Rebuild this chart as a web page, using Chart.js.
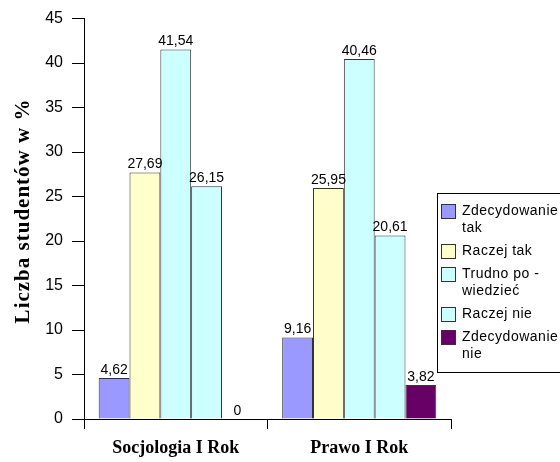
<!DOCTYPE html>
<html lang="pl">
<head>
<meta charset="UTF-8" />
<title>Liczba studentów</title>
<script src="https://cdn.jsdelivr.net/npm/chart.js"></script>
<style>
    html, body { margin: 0; padding: 0; background: #fff; overflow: hidden; }
    #wrap { width: 560px; height: 462px; }
</style>
</head>
<body>
<div id="wrap"><canvas id="wykres"></canvas></div>
<script>
    // dane
    const kierunki = ['Socjologia I Rok', 'Prawo I Rok'];
    const odpowiedzi = ['Zdecydowanie tak', 'Raczej tak', 'Trudno po - wiedzieć', 'Raczej nie', 'Zdecydowanie nie'];
    const zdecydowanieTak = [4.62, 9.16];
    const raczejTak = [27.69, 25.95];
    const trudnoPowiedziec = [41.54, 40.46];
    const raczejNie = [26.15, 20.61];
    const zdecydowanieNie = [0, 3.82];
    const yTicks = [0, 5, 10, 15, 20, 25, 30, 35, 40, 45];
    const tytulY = 'Liczba studentów w %';

    const serie = [zdecydowanieTak, raczejTak, trudnoPowiedziec, raczejNie, zdecydowanieNie];
    const kolory = ['#9999ff', '#ffffcc', '#ccffff', '#ccffff', '#660066'];

    // wartosci nad slupkami
    const etykiety = {
        id: 'etykiety',
        afterDatasetsDraw(chart) {
            const ctx = chart.ctx;
            ctx.save();
            ctx.font = '14px Arial, "Liberation Sans"';
            ctx.fillStyle = '#000';
            ctx.textAlign = 'center';
            ctx.textBaseline = 'bottom';
            chart.data.datasets.forEach((ds, i) => {
                chart.getDatasetMeta(i).data.forEach((bar, j) => {
                    ctx.fillText(String(ds.data[j]).replace('.', ','), bar.x, bar.y - 1);
                });
            });
            ctx.restore();
        }
    };

    // tytul osi Y
    const tytul = {
        id: 'tytul',
        afterDraw(chart) {
            const ctx = chart.ctx;
            ctx.save();
            ctx.translate(29, 211);
            ctx.rotate(-Math.PI / 2);
            ctx.font = 'bold 21px "Liberation Serif", "Times New Roman"';
            ctx.letterSpacing = '1px';
            ctx.fillStyle = '#000';
            ctx.textAlign = 'center';
            ctx.textBaseline = 'alphabetic';
            ctx.fillText(tytulY, 0, 0);
            ctx.restore();
        }
    };

    // legenda w ramce po prawej
    const legenda = {
        id: 'legenda',
        afterDraw(chart) {
            const ctx = chart.ctx;
            const x0 = 437, y0 = 193, maxW = 100, lh = 17;
            ctx.save();
            ctx.font = '14px Arial, "Liberation Sans"';
            ctx.letterSpacing = '0.5px';
            let y = 211;
            const pozycje = [];
            chart.data.datasets.forEach((ds) => {
                const slowa = ds.label.split(' ');
                const linie = [];
                let akt = '';
                slowa.forEach(s => {
                    const t = akt ? akt + ' ' + s : s;
                    if (ctx.measureText(t).width > maxW && akt) { linie.push(akt); akt = s; }
                    else akt = t;
                });
                linie.push(akt);
                pozycje.push({ y: y, linie: linie, kolor: ds.backgroundColor });
                y += (linie.length - 1) * lh + 23;
            });
            const dol = 372;
            ctx.fillStyle = '#fff';
            ctx.fillRect(x0, y0, 140, dol - y0);
            ctx.strokeStyle = '#000';
            ctx.lineWidth = 1;
            ctx.strokeRect(x0 + 0.5, y0 + 0.5, 140, dol - y0);
            ctx.textBaseline = 'middle';
            pozycje.forEach(p => {
                ctx.fillStyle = p.kolor;
                ctx.fillRect(x0 + 4, p.y - 7, 14, 14);
                ctx.strokeStyle = '#333';
                ctx.strokeRect(x0 + 4.5, p.y - 6.5, 14, 14);
                ctx.fillStyle = '#000';
                p.linie.forEach((l, k) => ctx.fillText(l, x0 + 25, p.y + k * lh));
            });
            ctx.restore();
        }
    };

    const wykres = new Chart(document.getElementById('wykres'), {
        type: 'bar',
        data: {
            labels: kierunki,
            datasets: serie.map((d, i) => ({
                label: odpowiedzi[i],
                data: d,
                backgroundColor: kolory[i],
                borderColor: '#333',
                borderWidth: 1,
                categoryPercentage: 0.84,
                barPercentage: 1
            }))
        },
        options: {
            responsive: true,
            maintainAspectRatio: false,
            animation: false,
            layout: { padding: { top: 16, right: 109, bottom: 0, left: 0 } },
            plugins: {
                legend: { display: false },
                tooltip: { enabled: false }
            },
            scales: {
                x: {
                    grid: {
                        offset: true,
                        drawOnChartArea: false,
                        tickLength: 10,
                        color: (c) => c.index === kierunki.length ? 'rgba(0,0,0,0)' : '#000'
                    },
                    border: { color: '#000' },
                    ticks: {
                        color: '#000',
                        padding: 9,
                        font: { family: '"Liberation Serif", "Times New Roman"', size: 18, weight: 'bold' }
                    },
                    afterFit(s) { s.height = 43; }
                },
                y: {
                    min: 0,
                    max: 45,
                    afterBuildTicks(s) { s.ticks = yTicks.map(v => ({ value: v })); },
                    grid: { drawOnChartArea: false, tickLength: 12, color: '#000' },
                    border: { color: '#000' },
                    ticks: {
                        color: '#000',
                        padding: 9,
                        font: { family: 'Arial, "Liberation Sans"', size: 16 }
                    },
                    afterFit(s) { s.width = 84; }
                }
            }
        },
        plugins: [etykiety, tytul, legenda]
    });
</script>
</body>
</html>
